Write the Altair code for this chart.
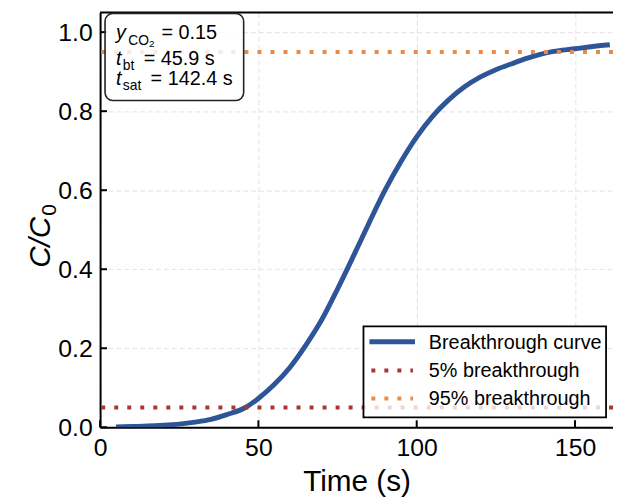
import altair as alt
import pandas as pd

# ---- data ----
time_s = [5, 10, 15, 20, 25, 30, 35, 40, 45.9, 50, 55, 60, 65, 70, 75, 80, 85, 90,
          95, 100, 105, 110, 115, 120, 125, 130, 135, 142.4, 150, 155, 161]
c_c0 = [0.001, 0.002, 0.003, 0.005, 0.008, 0.013, 0.02, 0.032, 0.05, 0.073, 0.108,
        0.152, 0.208, 0.272, 0.35, 0.433, 0.518, 0.6, 0.672, 0.735, 0.787, 0.828, 0.861,
        0.886, 0.905, 0.92, 0.934, 0.95, 0.958, 0.963, 0.968]
threshold_levels = [0.05, 0.95]
legend_labels = ["Breakthrough curve", "5% breakthrough", "95% breakthrough"]
x_tick_values = [0, 50, 100, 150]
y_tick_values = [0.0, 0.2, 0.4, 0.6, 0.8, 1.0]
y_co2 = 0.15
t_bt = 45.9
t_sat = 142.4

BLUE = "#2E5597"
RED = "#A93535"
ORANGE = "#E88B48"
FONT = "Liberation Sans"
W, H = 518, 419
DASH = [4, 9.15]
TXT = 20

curve_df = pd.DataFrame({"t": time_s, "c": c_c0})
one = pd.DataFrame({"k": [0]})

x_scale = alt.Scale(domain=[0, 162], nice=False, zero=False)
y_scale = alt.Scale(domain=[0, 1.05], nice=False)

x_axis = alt.Axis(title="Time (s)", values=x_tick_values, labelFontSize=25, ticks=False,
                  labelPadding=9, labelFlush=False, domainWidth=2, domainColor="black",
                  titleFontSize=30, titleFontWeight="normal", titleBaseline="alphabetic",
                  titleY=64, labelColor="black", titleColor="black", labelFont=FONT,
                  titleFont=FONT, grid=True, gridDash=[5, 3], gridColor="#e2e2e2",
                  gridWidth=1)
y_axis = alt.Axis(title=None, values=y_tick_values, format=".1f", labelFontSize=25,
                  ticks=False, labelPadding=8, domainWidth=2, domainColor="black",
                  labelColor="black", labelFont=FONT, grid=True, gridDash=[5, 3],
                  gridColor="#e2e2e2", gridWidth=1)

curve = alt.Chart(curve_df).mark_line(color=BLUE, strokeWidth=5, interpolate="monotone",
                                      clip=True).encode(
    x=alt.X("t:Q", scale=x_scale, axis=x_axis),
    y=alt.Y("c:Q", scale=y_scale, axis=y_axis),
)

thr_df = pd.DataFrame({"level": threshold_levels})
thr5 = alt.Chart(thr_df.iloc[[0]]).mark_rule(color=RED, strokeWidth=4, strokeDash=DASH).encode(
    y=alt.Y("level:Q", scale=y_scale))
thr95 = alt.Chart(thr_df.iloc[[1]]).mark_rule(color=ORANGE, strokeWidth=4, strokeDash=DASH).encode(
    y=alt.Y("level:Q", scale=y_scale))

# inward ticks
xt = alt.Chart(pd.DataFrame({"t": x_tick_values})).mark_rule(color="black", strokeWidth=2).encode(
    x=alt.X("t:Q", scale=x_scale), y=alt.value(H), y2=alt.value(H - 7))
yt = alt.Chart(pd.DataFrame({"v": y_tick_values})).mark_rule(color="black", strokeWidth=2).encode(
    y=alt.Y("v:Q", scale=y_scale), x=alt.value(0), x2=alt.value(7))
top_spine = alt.Chart(one).mark_rule(color="black", strokeWidth=2).encode(
    x=alt.value(0), x2=alt.value(W), y=alt.value(0))

# y-axis title  C/C0
ytitle_main = alt.Chart(one).mark_text(text="C/C", font=FONT, fontStyle="italic", fontSize=30,
                                       angle=270, align="left", baseline="alphabetic",
                                       color="black").encode(x=alt.value(-51), y=alt.value(258))
ytitle_sub = alt.Chart(one).mark_text(text="0", font=FONT, fontSize=21, angle=270, align="left",
                                      baseline="alphabetic", color="black").encode(
    x=alt.value(-45), y=alt.value(205.5))

# annotation box
box = alt.Chart(one).mark_rect(fill="white", fillOpacity=0.8, stroke="#222222", strokeWidth=1.6,
                               cornerRadius=8).encode(
    x=alt.value(5), x2=alt.value(145), y=alt.value(1), y2=alt.value(89))


def txt(s, x, y, size=TXT, italic=False):
    kw = dict(text=s, font=FONT, fontSize=size, align="left", baseline="alphabetic",
              color="black")
    if italic:
        kw["fontStyle"] = "italic"
    return alt.Chart(one).mark_text(**kw).encode(x=alt.value(x), y=alt.value(y))


box_texts = [
    txt("y", 16, 27, italic=True),
    txt("CO", 28.5, 32.5, size=14),
    txt("2", 49.5, 35, size=10),
    txt(f"= {y_co2:.2f}", 62, 27),
    txt("t", 16, 53, italic=True),
    txt("bt", 23, 58, size=14),
    txt(f"= {t_bt:.1f} s", 44, 53),
    txt("t", 16, 73, italic=True),
    txt("sat", 23, 78, size=14),
    txt(f"= {t_sat:.1f} s", 51, 73),
]

# legend
leg_box = alt.Chart(one).mark_rect(fill="white", fillOpacity=0.8, stroke="black",
                                   strokeWidth=1.8).encode(
    x=alt.value(266), x2=alt.value(511), y=alt.value(317), y2=alt.value(409))
leg_blue = alt.Chart(one).mark_rule(color=BLUE, strokeWidth=5).encode(
    x=alt.value(272), x2=alt.value(318), y=alt.value(332.7))
leg_red = alt.Chart(one).mark_rule(color=RED, strokeWidth=4, strokeDash=DASH,
                                   strokeDashOffset=11.2).encode(
    x=alt.value(272), x2=alt.value(316), y=alt.value(361.7))
leg_orange = alt.Chart(one).mark_rule(color=ORANGE, strokeWidth=4, strokeDash=DASH,
                                      strokeDashOffset=11.2).encode(
    x=alt.value(272), x2=alt.value(316), y=alt.value(390))
leg_texts = [txt(legend_labels[0], 332, 340), txt(legend_labels[1], 332, 368.5),
             txt(legend_labels[2], 332, 396.7)]

chart = alt.layer(
    curve, thr5, thr95, xt, yt, top_spine, ytitle_main, ytitle_sub, box, *box_texts,
    leg_box, leg_blue, leg_red, leg_orange, *leg_texts
).properties(
    width=W, height=H,
    padding={"left": 93, "top": 2, "right": 0, "bottom": 70},
    autosize=alt.AutoSizeParams(type="none"),
    background="white",
).configure_view(stroke=None)

chart.save("out.html", embed_options={"renderer": "svg", "actions": False})
